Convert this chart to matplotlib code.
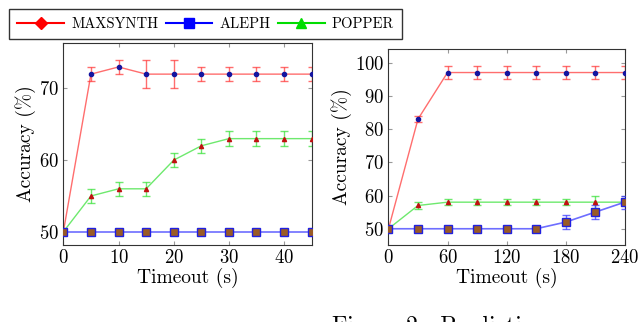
import matplotlib
matplotlib.use("Agg")
import matplotlib.pyplot as plt
from matplotlib.lines import Line2D

plt.rcParams['font.family'] = 'serif'
plt.rcParams['font.serif'] = ['cmr10', 'DejaVu Serif']
plt.rcParams['mathtext.fontset'] = 'cm'
plt.rcParams['axes.formatter.use_mathtext'] = True

# left panel
t_left = [0, 5, 10, 15, 20, 25, 30, 35, 40, 45]
maxsynth_l = [50, 72, 73, 72, 72, 72, 72, 72, 72, 72]
maxsynth_l_err = [0, 1, 1, 2, 2, 1, 1, 1, 1, 1]
aleph_l = [50, 50, 50, 50, 50, 50, 50, 50, 50, 50]
aleph_l_err = [0, 0, 0, 0, 0, 0, 0, 0, 0, 0]
popper_l = [50, 55, 56, 56, 60, 62, 63, 63, 63, 63]
popper_l_err = [0, 1, 1, 1, 1, 1, 1, 1, 1, 1]

# right panel
t_right = [0, 30, 60, 90, 120, 150, 180, 210, 240]
maxsynth_r = [50, 83, 97, 97, 97, 97, 97, 97, 97]
maxsynth_r_err = [0, 1, 2, 2, 2, 2, 2, 2, 2]
aleph_r = [50, 50, 50, 50, 50, 50, 52, 55, 58]
aleph_r_err = [0, 0, 0, 0, 0, 0, 2, 2, 2]
popper_r = [50, 57, 58, 58, 58, 58, 58, 58, 58]
popper_r_err = [0, 1, 1, 1, 1, 1, 1, 2, 1]

labels = ['MAXSYNTH', 'ALEPH', 'POPPER']

fig = plt.figure(figsize=(6.4, 3.22), dpi=100)
ax1 = fig.add_axes([0.099, 0.240, 0.388, 0.6255])
ax2 = fig.add_axes([0.607, 0.240, 0.369, 0.607])


def draw(ax, x, ms, ms_e, al, al_e, po, po_e):
    ax.errorbar(x, ms, yerr=ms_e, color='#ff3030', lw=1, alpha=0.7,
                capsize=3, elinewidth=1, capthick=1, zorder=2)
    ax.plot(x, ms, ls='none', marker='o', ms=3, color='#1515a0', zorder=5)
    ax.errorbar(x, po, yerr=po_e, color='#30e030', lw=1, alpha=0.7,
                capsize=3, elinewidth=1, capthick=1, zorder=2)
    ax.plot(x, po, ls='none', marker='^', ms=3, color='#c01010', zorder=5)
    ax.errorbar(x, al, yerr=al_e, color='#3030ff', lw=1.2, alpha=0.7,
                capsize=3, elinewidth=1, capthick=1, zorder=3)
    ax.plot(x, al, ls='none', marker='s', ms=5.5, mfc='#9a5b25',
            mec='#2020e0', mew=1, zorder=6)
    ax.tick_params(direction='in', length=3, color='#999999', labelsize=13.5,
                   top=True, right=True, pad=3)
    for s in ax.spines.values():
        s.set_color('#333333')
        s.set_linewidth(0.8)
    ax.set_xlabel('Timeout (s)', fontsize=14, labelpad=1)
    ax.set_ylabel('Accuracy (%)', fontsize=14, labelpad=2)


draw(ax1, t_left, maxsynth_l, maxsynth_l_err, aleph_l, aleph_l_err,
     popper_l, popper_l_err)
ax1.set_xlim(0, 45)
ax1.set_ylim(48.2, 76.3)
ax1.set_xticks([0, 10, 20, 30, 40])
ax1.set_yticks([50, 60, 70])

draw(ax2, t_right, maxsynth_r, maxsynth_r_err, aleph_r, aleph_r_err,
     popper_r, popper_r_err)
ax2.set_xlim(0, 240)
ax2.set_ylim(45.2, 104)
ax2.set_xticks([0, 60, 120, 180, 240])
ax2.set_yticks([50, 60, 70, 80, 90, 100])

handles = [
    Line2D([], [], color='#ff0000', marker='D', ms=6),
    Line2D([], [], color='#0000ff', marker='s', ms=7),
    Line2D([], [], color='#00dd00', marker='^', ms=7),
]
leg = fig.legend(handles, labels, loc='upper left', ncol=3,
                 bbox_to_anchor=(0.003, 0.995), frameon=True, fancybox=False,
                 fontsize=10.5, handlelength=3.2, columnspacing=0.5,
                 handletextpad=0.5, borderpad=0.55)
leg.get_frame().set_edgecolor('black')
leg.get_frame().set_linewidth(1.0)

fig.text(0.519, 0.018, 'Figure 2:  Prediction', fontsize=17, va='top')

fig.savefig('out.png', dpi=100)
